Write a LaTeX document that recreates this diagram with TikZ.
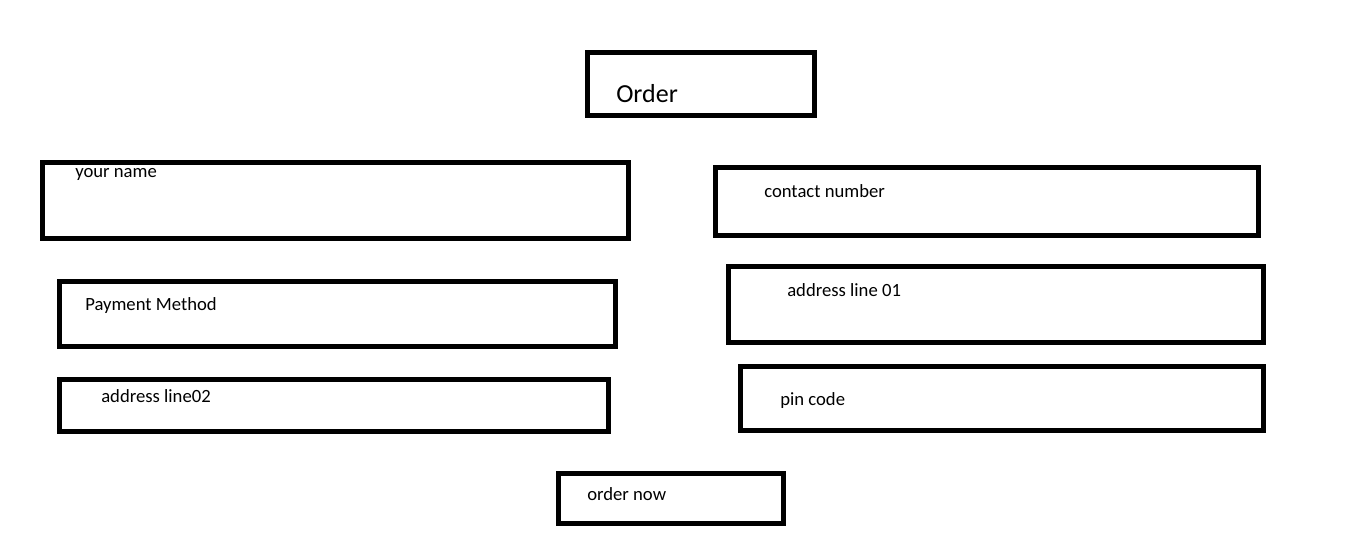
\documentclass[tikz,border=0pt]{standalone}
\usepackage{fontspec}
\setmainfont{Carlito}
\begin{document}
\begin{tikzpicture}[x=0.75pt, y=-0.75pt,
    field/.style = {draw, line width=3.75pt},
    caption/.style = {anchor=base west, inner sep=0pt, font=\fontsize{14}{16}\selectfont},
    heading/.style = {caption, font=\fontsize{19.5}{22}\selectfont}]
    \useasboundingbox (0,0) rectangle (1360,553);
    % input fields
    \foreach \xa/\ya/\xb/\yb in {587.5/52.5/814.5/115.5, 42.5/162.5/628.5/238.5,
        715.5/167.5/1258.5/235.5, 59.5/281.5/615.5/346.5, 728.5/266.5/1263.5/342.5,
        59.5/379.5/608.5/431.5, 740.5/366.5/1263.5/430.5, 558.5/473.5/783.5/523.5}
        \draw[field] (\xa,\ya) rectangle (\xb,\yb);
    % texts
    \node[heading] (order) at (616,102) {Order};
    \node[caption] (name) at (75,177) {your name};
    \node[caption] (contact) at (764,197) {contact number};
    \node[caption] (payment) at (85,310) {Payment Method};
    \node[caption] (addrone) at (787,296) {address line 01};
    \node[caption] (addrtwo) at (101,402) {address line02};
    \node[caption] (pin) at (780,405) {pin code};
    \node[caption] (ordernow) at (587,500) {order now};
\end{tikzpicture}
\end{document}
